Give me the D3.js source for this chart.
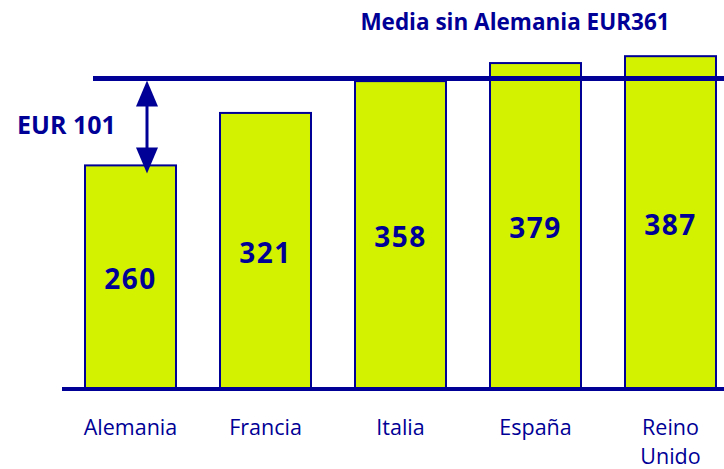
<!DOCTYPE html>
<html>
<head>
<meta charset="utf-8">
<script src="https://cdn.jsdelivr.net/npm/d3@7"></script>
<style>
  html, body { margin: 0; padding: 0; background: #fff; }
  svg { display: block; }
  text { font-family: "Open Sans", "DejaVu Sans", sans-serif; }
</style>
</head>
<body>
<svg id="chart" width="724" height="469"></svg>
<script>
const categories = ["Alemania", "Francia", "Italia", "España", "Reino Unido"];
const categoryLines = [["Alemania"], ["Francia"], ["Italia"], ["España"], ["Reino", "Unido"]];
const values = [260, 321, 358, 379, 387];
const meanValue = 361;
const meanLabel = "Media sin Alemania EUR361";
const gapLabel = "EUR 101";

const navy = "#000096";
const fill = "#d2f200";

const svg = d3.select("#chart");
const baseY = 389;

const x = d3.scaleBand().domain(categories).range([63, 738]).paddingInner(0.326).paddingOuter(0.163);
const y = d3.scaleLinear().domain([0, 400]).range([baseY, baseY - 400 * 0.86]);

// bars
svg.selectAll("rect.bar").data(values).enter().append("rect")
  .attr("class", "bar")
  .attr("x", (d, i) => x(categories[i]))
  .attr("width", x.bandwidth())
  .attr("y", d => y(d))
  .attr("height", d => y(0) - y(d))
  .attr("fill", fill)
  .attr("stroke", navy)
  .attr("stroke-width", 2);

// value labels
svg.selectAll("text.val").data(values).enter().append("text")
  .attr("class", "val")
  .attr("x", (d, i) => x(categories[i]) + x.bandwidth() / 2)
  .attr("y", d => (y(d) + y(0)) / 2 + 2)
  .attr("dy", "0.36em")
  .attr("text-anchor", "middle")
  .attr("font-size", 28)
  .attr("font-weight", "bold")
  .attr("letter-spacing", 1.5)
  .attr("fill", navy)
  .text(d => d);

// baseline
svg.append("line")
  .attr("x1", 62).attr("x2", 724)
  .attr("y1", y(0)).attr("y2", y(0))
  .attr("stroke", navy).attr("stroke-width", 4);

// mean line
svg.append("line")
  .attr("x1", 93).attr("x2", 724)
  .attr("y1", y(meanValue)).attr("y2", y(meanValue))
  .attr("stroke", navy).attr("stroke-width", 5);

// mean label
svg.append("text")
  .attr("x", 515).attr("y", 22)
  .attr("dy", "0.36em")
  .attr("text-anchor", "middle")
  .attr("font-size", 22.5)
  .attr("font-weight", "bold")
  .attr("fill", navy)
  .text(meanLabel);

// double arrow between mean and Alemania
const ax = 147;
const yTop = y(meanValue) + 2;
const yBot = y(values[0]) + 8;
const ah = 26, aw = 11;
svg.append("line")
  .attr("x1", ax).attr("x2", ax)
  .attr("y1", yTop + ah - 2).attr("y2", yBot - ah + 2)
  .attr("stroke", navy).attr("stroke-width", 3);
svg.append("path")
  .attr("d", `M${ax},${yTop} L${ax - aw},${yTop + ah} L${ax + aw},${yTop + ah} Z`)
  .attr("fill", navy);
svg.append("path")
  .attr("d", `M${ax},${yBot} L${ax - aw},${yBot - ah} L${ax + aw},${yBot - ah} Z`)
  .attr("fill", navy);

svg.append("text")
  .attr("x", 17).attr("y", 125)
  .attr("dy", "0.36em")
  .attr("font-size", 25)
  .attr("font-weight", "bold")
  .attr("fill", navy)
  .text(gapLabel);

// category labels
categoryLines.forEach((lines, i) => {
  lines.forEach((l, j) => {
    svg.append("text")
      .attr("x", x(categories[i]) + x.bandwidth() / 2)
      .attr("y", 427 + j * 29)
      .attr("dy", "0.36em")
      .attr("text-anchor", "middle")
      .attr("font-size", 21.5)
      .attr("fill", navy)
      .text(l);
  });
});
</script>
</body>
</html>
